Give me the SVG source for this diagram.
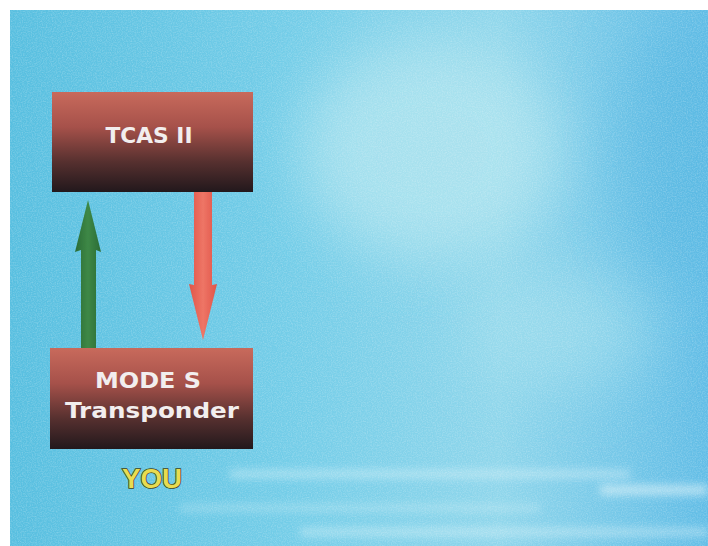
<svg xmlns="http://www.w3.org/2000/svg" width="708" height="546" viewBox="0 0 708 546">
  <defs>
    <style>
      .label { font-family: "DejaVu Sans", "Liberation Sans", sans-serif; font-weight: bold; fill: #f2eeee; text-anchor: middle; }
      .you { font-family: "Liberation Sans", "DejaVu Sans", sans-serif; font-weight: bold; fill: #e8dc50; stroke: #3e4420; stroke-width: 1.6; paint-order: stroke; text-anchor: middle; }
      .box { fill: url(#boxGrad); }
    </style>
    <clipPath id="bgClip">
      <rect x="10" y="10" width="698" height="536"/>
    </clipPath>
    <linearGradient id="sky" x1="0" y1="0" x2="1" y2="0">
      <stop offset="0" stop-color="#58bfe0"/>
      <stop offset="0.4" stop-color="#74cde8"/>
      <stop offset="0.7" stop-color="#8fd6eb"/>
      <stop offset="1" stop-color="#62bde6"/>
    </linearGradient>
    <linearGradient id="boxGrad" x1="0" y1="0" x2="0" y2="1">
      <stop offset="0" stop-color="#c86a5c"/>
      <stop offset="0.35" stop-color="#a6514a"/>
      <stop offset="0.7" stop-color="#56302f"/>
      <stop offset="1" stop-color="#22181c"/>
    </linearGradient>
    <linearGradient id="greenGrad" x1="0" y1="0" x2="1" y2="0">
      <stop offset="0" stop-color="#2a6c36"/>
      <stop offset="0.5" stop-color="#3e8846"/>
      <stop offset="1" stop-color="#2a6c36"/>
    </linearGradient>
    <linearGradient id="redGrad" x1="0" y1="0" x2="1" y2="0">
      <stop offset="0" stop-color="#e05548"/>
      <stop offset="0.5" stop-color="#ee7566"/>
      <stop offset="1" stop-color="#e05548"/>
    </linearGradient>
    <filter id="blurBig" x="-50%" y="-50%" width="200%" height="200%">
      <feGaussianBlur stdDeviation="30"/>
    </filter>
    <filter id="blurStreak" x="-20%" y="-300%" width="140%" height="700%">
      <feGaussianBlur stdDeviation="4"/>
    </filter>
    <filter id="noise" x="0" y="0" width="100%" height="100%">
      <feTurbulence type="fractalNoise" baseFrequency="0.8" numOctaves="2" seed="7" result="n"/>
      <feColorMatrix in="n" type="matrix" values="0 0 0 0 1  0 0 0 0 1  0 0 0 0 1  0 0 0 1.2 -0.45"/>
    </filter>
    <filter id="soft" x="-10%" y="-10%" width="120%" height="120%">
      <feGaussianBlur stdDeviation="0.6"/>
    </filter>
  </defs>

  <rect x="0" y="0" width="708" height="546" fill="#ffffff"/>
  <g id="background" clip-path="url(#bgClip)">
    <rect x="10" y="10" width="698" height="536" fill="url(#sky)"/>
    <ellipse cx="430" cy="150" rx="130" ry="110" fill="#b4e6f0" filter="url(#blurBig)" opacity="0.75"/>
    <ellipse cx="560" cy="330" rx="90" ry="60" fill="#a4e0ee" filter="url(#blurBig)" opacity="0.6"/>
    <ellipse cx="680" cy="150" rx="60" ry="130" fill="#58b8e2" filter="url(#blurBig)" opacity="0.6"/>
    <rect x="230" y="470" width="400" height="8" fill="#e2f6fa" filter="url(#blurStreak)" opacity="0.45"/>
    <rect x="600" y="485" width="108" height="10" fill="#eef9fb" filter="url(#blurStreak)" opacity="0.55"/>
    <rect x="180" y="505" width="360" height="6" fill="#d6f2f8" filter="url(#blurStreak)" opacity="0.4"/>
    <rect x="300" y="528" width="408" height="8" fill="#def4f9" filter="url(#blurStreak)" opacity="0.45"/>
    <rect x="10" y="10" width="698" height="536" fill="#ffffff" filter="url(#noise)" opacity="0.35"/>
  </g>

  <g id="connectors">
    <path id="arrow-up" d="M81,348 L81,250 L75,252 L88,200 L101,252 L96,250 L96,348 Z" fill="url(#greenGrad)" filter="url(#soft)"/>
    <path id="arrow-down" d="M194,192 L194,285 L189,284 L203,340 L217,284 L212,285 L212,192 Z" fill="url(#redGrad)" filter="url(#soft)"/>
  </g>

  <g id="tcas">
    <rect class="box" x="52" y="92" width="201" height="100"/>
    <text class="label" x="149" y="143" font-size="22" textLength="87" lengthAdjust="spacingAndGlyphs">TCAS II</text>
  </g>

  <g id="transponder">
    <rect class="box" x="50" y="348" width="203" height="101"/>
    <text class="label" x="148" y="388" font-size="22" textLength="106" lengthAdjust="spacingAndGlyphs">MODE  S</text>
    <text class="label" x="152" y="418" font-size="22" textLength="174" lengthAdjust="spacingAndGlyphs">Transponder</text>
  </g>

  <g id="you">
    <text class="you" x="152" y="488" font-size="27" textLength="60" lengthAdjust="spacingAndGlyphs">YOU</text>
  </g>
</svg>
